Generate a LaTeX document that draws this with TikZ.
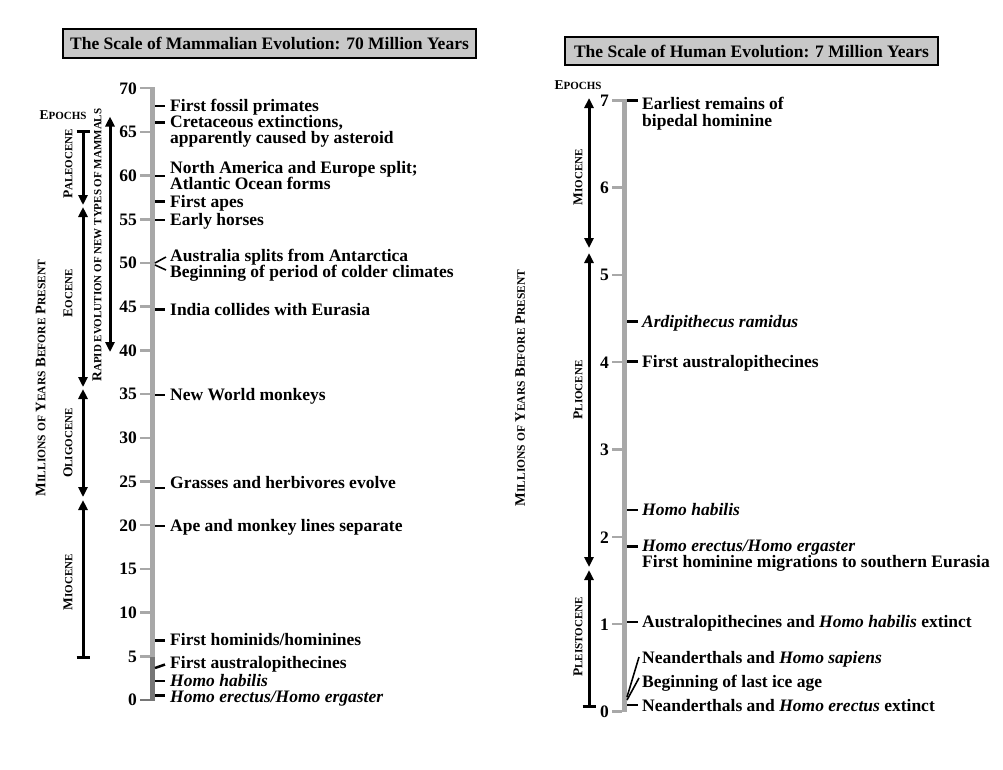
\documentclass[tikz,border=0pt]{standalone}
\usepackage{fontspec}
\setmainfont{Liberation Serif}
\usetikzlibrary{arrows.meta}
\definecolor{axisgray}{RGB}{168,168,168}
\definecolor{darkaxis}{RGB}{118,118,118}
\definecolor{titlegray}{RGB}{200,200,200}
\newcommand\smc[1]{{\fontsize{11}{11}\selectfont #1}}
\newcommand\smcL[1]{{\fontsize{11.5}{11.5}\selectfont #1}}
\begin{document}
\begin{tikzpicture}[x=1pt,y=-1pt,
  txt/.style={font=\bfseries\fontsize{17.5}{17.5}\selectfont, inner sep=0pt, anchor=west, text height=11.6pt, text depth=0pt},
  num/.style={font=\bfseries\fontsize{17.5}{17.5}\selectfont, inner sep=0pt, anchor=east, text height=11.6pt, text depth=0pt},
  titlebox/.style={draw=black, line width=1.6pt, fill=titlegray, inner sep=0pt, font=\bfseries\fontsize{17.5}{17.5}\selectfont},
  eplabel/.style={rotate=90, font=\bfseries\fontsize{13.5}{13.5}\selectfont, inner sep=0pt, text height=8.9pt, text depth=0pt},
  bigcaps/.style={font=\bfseries\fontsize{14.5}{14.5}\selectfont, inner sep=0pt, text height=9.6pt, text depth=0pt},
  hdr/.style={font=\bfseries\fontsize{13.5}{13.5}\selectfont, inner sep=0pt, text height=8.9pt, text depth=0pt},
  axisbar/.style={line width=5pt, axisgray},
  gtick/.style={line width=2.5pt, axisgray},
  etick/.style={line width=2.5pt, black},
  thintick/.style={line width=1.6pt, black},
  epocharrow/.style={line width=3pt, black, {Triangle[length=10pt,width=9pt]}-{Triangle[length=10pt,width=9pt]}},
  uparrow/.style={line width=3pt, black, {Triangle[length=10pt,width=9pt]}-},
  downarrow/.style={line width=3pt, black, -{Triangle[length=10pt,width=9pt]}},
  capbar/.style={line width=3pt, black}
]
\path[use as bounding box] (0,0) rectangle (1003,769);

% ================= LEFT PANEL =================
\node[titlebox, minimum width=413pt, minimum height=29pt] (ltitle) at (269.5,43.5)
  {The Scale of Mammalian Evolution: 70 Million Years};

% axis
\draw[axisbar] (152.5,88) -- (152.5,700);
\draw[line width=5pt, darkaxis] (152.5,657) -- (152.5,700);
\draw[gtick] (140,88) -- (155,88);
\foreach \v in {5,10,...,65} {
  \pgfmathsetmacro\yy{700-8.74*\v}
  \draw[gtick] (140,\yy) -- (150,\yy);
}
\draw[line width=2.5pt, darkaxis] (140,700) -- (155,700);
\foreach \v in {0,5,...,70} {
  \pgfmathsetmacro\yy{700-8.74*\v}
  \node[num] (L\v) at (137,\yy) {\v};
}

% events
\draw[etick] (155,106) -- (165,106);
\node[txt] (a1) at (170,106) {First fossil primates};
\draw[etick] (155,122.5) -- (165,122.5);
\node[txt] (a2) at (170,122) {Cretaceous extinctions,};
\node[txt] (a2b) at (170,138) {apparently caused by asteroid};
\draw[etick] (155,176) -- (165,176);
\node[txt] (a3) at (170,167.5) {North America and Europe split;};
\node[txt] (a3b) at (170,183.5) {Atlantic Ocean forms};
\draw[etick] (155,201.5) -- (165,201.5);
\node[txt] (a4) at (170,201.5) {First apes};
\draw[etick] (155,220) -- (165,220);
\node[txt] (a5) at (170,220) {Early horses};
\draw[thintick] (155,263) -- (166,257);
\node[txt] (a6) at (170,255.5) {Australia splits from Antarctica};
\draw[thintick] (155,265) -- (166,270);
\node[txt] (a7) at (170,271.5) {Beginning of period of colder climates};
\draw[etick] (155,309.5) -- (165,309.5);
\node[txt] (a8) at (170,309.5) {India collides with Eurasia};
\draw[etick] (155,395) -- (165,395);
\node[txt] (a9) at (170,395) {New World monkeys};
\draw[etick] (155,488) -- (165,488);
\node[txt] (a10) at (170,483) {Grasses and herbivores evolve};
\draw[etick] (155,526) -- (165,526);
\node[txt] (a11) at (170,526) {Ape and monkey lines separate};
\draw[etick] (155,640.5) -- (165,640.5);
\node[txt] (a12) at (170,640) {First hominids/hominines};
\draw[etick] (155,668) -- (165,664.5);
\node[txt] (a13) at (170,663) {First australopithecines};
\draw[etick] (155,681) -- (165,681);
\node[txt] (a14) at (170,680.5) {\itshape Homo habilis};
\draw[etick] (155,695.5) -- (165,695.5);
\node[txt] (a15) at (170,697) {\itshape Homo erectus/Homo ergaster};

% epochs
\node[hdr] (lepochs) at (63,115) {E\smc{POCHS}};
\draw[capbar] (76.5,131.5) -- (89.5,131.5);
\draw[downarrow] (83,131.5) -- (83,205);
\draw[epocharrow] (83,207) -- (83,387);
\draw[epocharrow] (83,389) -- (83,497);
\draw[uparrow] (83,500) -- (83,657);
\draw[capbar] (76.5,657) -- (89.5,657);
\node[eplabel] (lpal) at (68,164) {P\smc{ALEOCENE}};
\node[eplabel] (leoc) at (68,293) {E\smc{OCENE}};
\node[eplabel] (loli) at (68,443) {O\smc{LIGOCENE}};
\node[eplabel] (lmio) at (68,582) {M\smc{IOCENE}};

\draw[epocharrow] (110,116.5) -- (110,352);
\node[eplabel] (lrapid) at (97,245) {R\smc{APID EVOLUTION OF NEW TYPES OF MAMMALS}};
\node[bigcaps, rotate=90] (lmya) at (40.5,378) {M\smcL{ILLIONS OF} Y\smcL{EARS} B\smcL{EFORE} P\smcL{RESENT}};

% ================= RIGHT PANEL =================
\node[titlebox, minimum width=373pt, minimum height=28pt] (rtitle) at (751.5,51)
  {The Scale of Human Evolution: 7 Million Years};

\draw[axisbar] (624.5,100) -- (624.5,711.5);
\draw[gtick] (612,100.5) -- (627,100.5);
\foreach \v in {0,...,6} {
  \pgfmathsetmacro\yy{711.5-87.35*\v}
  \draw[gtick] (612,\yy) -- (622,\yy);
}
\foreach \v in {0,...,7} {
  \pgfmathsetmacro\yy{712-87.4*\v}
  \node[num] (R\v) at (609,\yy) {\v};
}

% events
\draw[etick] (627,100.5) -- (638,100.5);
\node[txt] (b1) at (642,104) {Earliest remains of};
\node[txt] (b1b) at (642,120.5) {bipedal hominine};
\draw[etick] (627,321.5) -- (638,321.5);
\node[txt] (b2) at (642,322) {\itshape Ardipithecus ramidus};
\draw[etick] (627,361.5) -- (638,361.5);
\node[txt] (b3) at (642,361.5) {First australopithecines};
\draw[etick] (627,510) -- (638,510);
\node[txt] (b4) at (642,510) {\itshape Homo habilis};
\draw[etick] (627,546.5) -- (638,546.5);
\node[txt] (b5) at (642,545.5) {\itshape Homo erectus/Homo ergaster};
\node[txt] (b5b) at (642,562) {First hominine migrations to southern Eurasia};
\draw[etick] (627,622) -- (638,622);
\node[txt] (b6) at (642,622) {Australopithecines and \textit{Homo habilis} extinct};
\draw[thintick] (627,697) -- (639,657);
\node[txt] (b7) at (642,657.5) {Neanderthals and \textit{Homo sapiens}};
\draw[thintick] (627,700) -- (639,678);
\node[txt] (b8) at (642,682) {Beginning of last ice age};
\draw[etick] (627,705) -- (638,705);
\node[txt] (b9) at (642,705.5) {Neanderthals and \textit{Homo erectus} extinct};

% epochs
\node[hdr] (repochs) at (578,85) {E\smc{POCHS}};
\draw[epocharrow] (589,98) -- (589,248);
\draw[epocharrow] (589,253) -- (589,567);
\draw[uparrow] (589,570) -- (589,706);
\draw[capbar] (582.5,706) -- (595.5,706);
\node[eplabel] (rmio) at (578,177) {M\smc{IOCENE}};
\node[eplabel] (rpli) at (578,390) {P\smc{LIOCENE}};
\node[eplabel] (rple) at (578,637) {P\smc{LEISTOCENE}};
\node[bigcaps, rotate=90] (rmya) at (520,388) {M\smcL{ILLIONS OF} Y\smcL{EARS} B\smcL{EFORE} P\smcL{RESENT}};
\end{tikzpicture}
\end{document}
